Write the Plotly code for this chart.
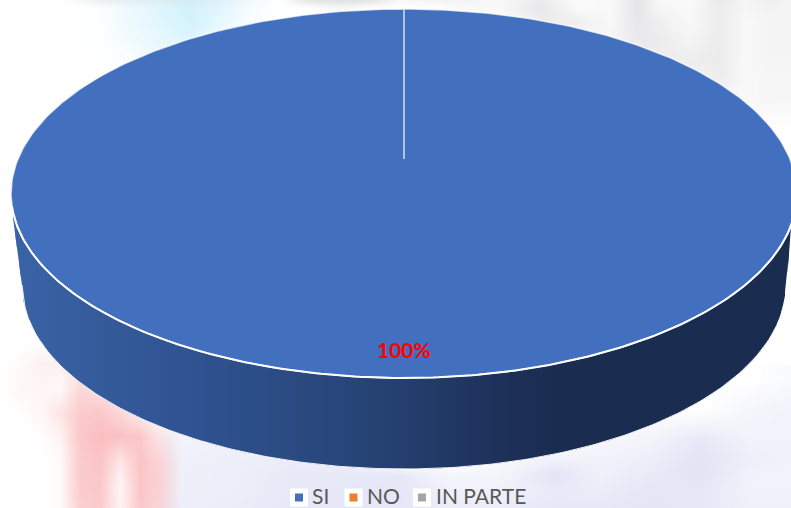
import math
import plotly.graph_objects as go

# ---- chart data ----
categories = ["SI", "NO", "IN PARTE"]
values = [100, 0, 0]
slice_colors = ["#4270BF", "#ED7D31", "#A5A5A5"]
label_text_color = "#FF0000"

# ---- pie geometry (page pixels) ----
W, H = 791, 508
CX, CY, RX, RY = 404, 193.5, 393, 184.5     # top face
APEX_Y = 159                                  # pie centre as seen in perspective
BX, BY, BRX, BRY = 404, 285, 382, 184         # bottom rim
LEFT_JOIN, RIGHT_JOIN = (13, 218), (791, 227)

# ---- blurred watermark behind the chart (alpha grids) ----
red_x = [0, 20, 40, 60, 80, 100, 120, 140, 160, 180]
red_y = [340, 364, 388, 412, 436, 460, 484, 508]
red_a = [
    [0, 0, 0, 0, 0, 0, 0, 0, 0, 0],
    [0, .08, .22, .25, .25, 0, 0, 0, 0, 0],
    [0, .12, .15, .10, .60, .45, .15, 0, 0, 0],
    [0, .03, .12, .40, .80, .85, .60, .30, 0, 0],
    [0, 0, .03, .20, .85, 1, .95, .85, .35, 0],
    [0, 0, 0, .08, .80, .90, .40, .90, .60, 0],
    [0, 0, 0, .08, .80, .85, .15, .90, .65, 0],
    [0, 0, 0, .08, .75, .80, .20, .85, .60, 0],
]
cyan_x = [100, 130, 160, 190, 220, 250, 280]
cyan_y = [0, 16, 32, 48, 64, 80]
cyan_a = [
    [.05, .35, .60, .90, .60, .20, 0],
    [.05, .35, .65, .90, .55, .15, 0],
    [.05, .30, .55, .75, .35, 0, 0],
    [0, .20, .45, .55, .10, 0, 0],
    [0, .10, .25, .10, 0, 0, 0],
    [0, 0, 0, 0, 0, 0, 0],
]
grey_x = [60, 100, 280, 310, 340, 370, 400, 430, 470, 500, 540, 580, 610, 637, 660, 690, 720, 745, 770, 791]
grey_y = [0, 8, 20, 40, 60, 80, 100, 130]
grey_a = [
    [0, .35, 0, .60, .70, .60, .15, .25, .25, .15, .45, .10, .15, .60, .15, .10, .50, .20, .35, .25],
    [0, 0, 0, 0, .20, 0, 0, 0, .15, .15, .55, .10, .15, .60, .20, .15, .45, .20, .30, .25],
    [0, 0, 0, 0, 0, 0, 0, 0, 0, .05, .45, .35, .15, .55, .35, .15, .45, .15, .25, .25],
    [0, 0, 0, 0, 0, 0, 0, 0, 0, 0, .05, .25, .20, .50, .45, .25, .45, .15, .25, .25],
    [0, 0, 0, 0, 0, 0, 0, 0, 0, 0, 0, 0, .10, .30, .40, .40, .45, .15, .25, .25],
    [0, 0, 0, 0, 0, 0, 0, 0, 0, 0, 0, 0, 0, 0, .15, .30, .40, .15, .20, .20],
    [0, 0, 0, 0, 0, 0, 0, 0, 0, 0, 0, 0, 0, 0, 0, 0, .15, .15, .20, .20],
    [0, 0, 0, 0, 0, 0, 0, 0, 0, 0, 0, 0, 0, 0, 0, 0, 0, 0, 0, 0],
]
lav_x = [150, 170, 240, 290, 340, 400, 450, 500, 555, 600, 650, 700, 750, 791]
lav_y = [380, 410, 440, 460, 475, 490, 508]
lav_a = [
    [0, 0, 0, 0, 0, 0, 0, 0, 0, 0, 0, 0, 0, .20],
    [0, 0, 0, 0, 0, 0, 0, 0, 0, 0, 0, 0, .35, .50],
    [0, .45, .55, 0, 0, 0, 0, 0, 0, .30, .45, .85, .50, .50],
    [.10, .55, .60, .70, .65, 0, 0, .25, .55, .50, .65, 1, .60, .50],
    [.10, .55, .65, .80, .80, .85, .35, .40, 1, .55, .80, 1, .50, .45],
    [.10, .55, .65, .80, .85, .90, .50, .55, .75, .70, .90, .85, .50, .50],
    [.10, .60, .70, .85, .90, .90, .70, .70, .85, .85, .95, .85, .55, .55],
]

# ---- legend layout ----
legend_marker_x = [299, 353.5, 422]
legend_text_x = [311, 366, 435]
LEGEND_Y = 497.5
LEGEND_TEXT_Y = 495.2

# ---- side wall shading: position -> rgb ----
shade_x = [0, 100, 200, 300, 400, 500, 560, 800]
shade_rgb = [(58, 101, 168), (53, 91, 155), (47, 82, 144), (42, 74, 128),
             (36, 64, 111), (29, 49, 89), (26, 44, 80), (26, 44, 79)]


def shade(x):
    for i in range(len(shade_x) - 1):
        if shade_x[i] <= x <= shade_x[i + 1]:
            t = (x - shade_x[i]) / (shade_x[i + 1] - shade_x[i])
            c = [round(a + (b - a) * t) for a, b in zip(shade_rgb[i], shade_rgb[i + 1])]
            return "rgb(%d,%d,%d)" % tuple(c)
    return "rgb(26,44,79)"


def bottom_y(x):
    """Lower outline of the wall at horizontal position x."""
    if x <= BX - BRX:
        t = (x - LEFT_JOIN[0]) / (BX - BRX - LEFT_JOIN[0])
        return LEFT_JOIN[1] + (BY - LEFT_JOIN[1]) * t
    if x >= BX + BRX:
        t = (x - (BX + BRX)) / (RIGHT_JOIN[0] - (BX + BRX))
        return 293 + (RIGHT_JOIN[1] - 293) * t
    return BY + BRY * math.sqrt(max(0, 1 - ((x - BX) / BRX) ** 2))


fig = go.Figure()


def alpha_map(x, y, z, rgb):
    r, g, b = rgb
    fig.add_trace(go.Heatmap(
        x=x, y=y, z=z, zmin=0, zmax=1, zsmooth="best", showscale=False, hoverinfo="skip",
        colorscale=[[0, f"rgba({r},{g},{b},0)"], [1, f"rgba({r},{g},{b},1)"]],
    ))


alpha_map(cyan_x, cyan_y, cyan_a, (205, 240, 252))
alpha_map(grey_x, grey_y, grey_a, (212, 212, 215))
alpha_map(lav_x, lav_y, lav_a, (226, 228, 245))
alpha_map(red_x, red_y, red_a, (250, 190, 192))

# side wall as narrow shaded strips; each overlaps the previous one to hide seams
STEP = 4
x0 = LEFT_JOIN[0]
while x0 < W:
    x1 = min(x0 + STEP, W)
    xa = max(LEFT_JOIN[0], x0 - 1.5)
    xs = [xa, x1, x1, xa, xa]
    ys = [CY, CY, bottom_y(x1), bottom_y(xa), CY]
    col = shade((x0 + x1) / 2)
    fig.add_trace(go.Scatter(x=xs, y=ys, mode="lines", fill="toself", fillcolor=col,
                             line=dict(color=col, width=0), hoverinfo="skip", showlegend=False))
    x0 = x1

# thin white line under the wall
arc_x = [BX - BRX + i * (2 * BRX) / 240 for i in range(241)]
fig.add_trace(go.Scatter(x=arc_x, y=[bottom_y(x) for x in arc_x], mode="lines",
                         line=dict(color="rgba(255,255,255,0.9)", width=1),
                         hoverinfo="skip", showlegend=False))

# top face: one sector per value, clockwise from 12 o'clock
total = sum(values)
start = 0.0
for name, val, col in zip(categories, values, slice_colors):
    sweep = 2 * math.pi * val / total
    if val > 0:
        n = max(2, int(360 * val / total))
        ang = [start + sweep * i / n for i in range(n + 1)]
        xs = [CX] + [CX + RX * math.sin(a) for a in ang] + [CX]
        ys = [APEX_Y] + [CY - RY * math.cos(a) for a in ang] + [APEX_Y]
        fig.add_trace(go.Scatter(x=xs, y=ys, mode="lines", fill="toself", fillcolor=col, name=name,
                                 line=dict(color="rgba(255,255,255,0.72)", width=1.6),
                                 hoverinfo="name", showlegend=False))
    start += sweep

# bright rim along the front of the top face
rim = [math.pi / 2 + 0.07 + i * (math.pi - 0.14) / 240 for i in range(241)]
fig.add_trace(go.Scatter(x=[CX + RX * math.sin(a) for a in rim], y=[CY - RY * math.cos(a) for a in rim],
                         mode="lines", line=dict(color="white", width=2), hoverinfo="skip", showlegend=False))

# legend: white keys, coloured squares, labels
fig.add_trace(go.Scatter(x=legend_marker_x, y=[LEGEND_Y] * 3, mode="markers", hoverinfo="skip", showlegend=False,
                         marker=dict(symbol="square", size=18, color="white"), cliponaxis=False))
for name, col, mx in zip(categories, slice_colors, legend_marker_x):
    fig.add_trace(go.Scatter(x=[mx], y=[LEGEND_Y], mode="markers", name=name, showlegend=False,
                             marker=dict(symbol="square", size=8, color=col), hoverinfo="name"))

annotations = [dict(x=tx, y=LEGEND_TEXT_Y, text=name, showarrow=False, xanchor="left", yanchor="middle",
                    xref="x", yref="y", xshift=-1,
                    font=dict(family="Lato", size=21, color="#595959"))
               for name, tx in zip(categories, legend_text_x)]

# data label
annotations.append(dict(x=403.5, y=349.5, text=f"<b>{values[0] / total:.0%}</b>", showarrow=False,
                        xref="x", yref="y", font=dict(family="Lato", size=21, color=label_text_color)))

fig.update_layout(
    width=W, height=H, margin=dict(l=0, r=0, t=0, b=0), showlegend=False,
    paper_bgcolor="white", plot_bgcolor="white", annotations=annotations,
    xaxis=dict(range=[0, W], visible=False, fixedrange=True),
    yaxis=dict(range=[H, 0], visible=False, fixedrange=True),
)
fig.write_html("out.html", post_script="document.body.style.margin='0';document.body.style.overflow='hidden';",
               config={"displayModeBar": False})
